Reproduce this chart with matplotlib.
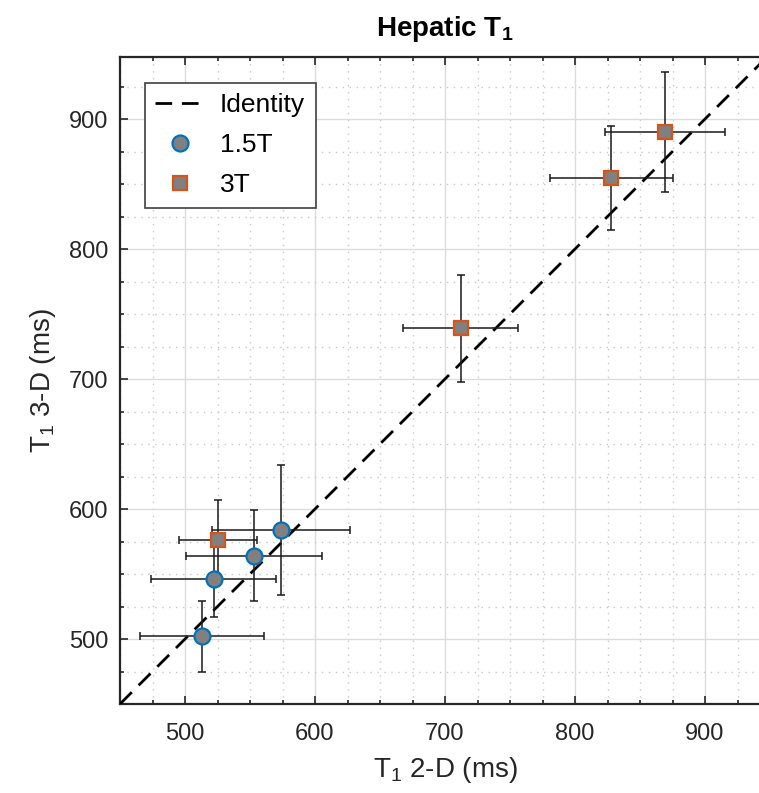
import numpy as np
import matplotlib.pyplot as plt
from matplotlib.lines import Line2D
from matplotlib.ticker import MultipleLocator

plt.rcParams['font.family'] = ['Liberation Sans', 'DejaVu Sans']
plt.rcParams['mathtext.fontset'] = 'custom'
plt.rcParams['mathtext.rm'] = 'Liberation Sans'
plt.rcParams['mathtext.bf'] = 'Liberation Sans:bold'
plt.rcParams['mathtext.default'] = 'regular'

# 1.5T: T1 from 2-D vs 3-D (ms), with std
x_15 = [513, 522, 553, 574]
xerr_15 = [47.5, 48, 52, 53]
y_15 = [502, 546, 564, 584]
yerr_15 = [27, 29, 35, 50]

# 3T
x_3 = [525, 712, 828, 869]
xerr_3 = [30, 44, 47, 46]
y_3 = [576, 739, 855, 890]
yerr_3 = [31, 41, 40, 46]

blue = '#0072BD'
orange = '#D95319'
gray = '#808080'
dark = '#262626'

#%%
fig = plt.figure(figsize=(7.59, 7.93), dpi=100)
ax = fig.add_axes([120 / 759, 89 / 793, 650 / 759, 647 / 793])

ident = np.array([450, 950])
ax.plot(ident, ident, color='k', lw=2, dashes=(6, 3.5), zorder=3)

ebkw = dict(fmt='none', ecolor='#1a1a1a', elinewidth=1.1, capsize=2.8, capthick=1.1, zorder=4)
ax.errorbar(x_15, y_15, xerr=xerr_15, yerr=yerr_15, **ebkw)
ax.errorbar(x_3, y_3, xerr=xerr_3, yerr=yerr_3, **ebkw)

ax.plot(x_15, y_15, 'o', ms=11.5, mfc=gray, mec=blue, mew=1.6, ls='none', zorder=5)
ax.plot(x_3, y_3, 's', ms=10, mfc=gray, mec=orange, mew=1.6, ls='none', zorder=5)

ax.set_xlim(450, 950)
ax.set_ylim(450, 450 + 647 / 1.3)

ax.xaxis.set_major_locator(MultipleLocator(100))
ax.yaxis.set_major_locator(MultipleLocator(100))
ax.xaxis.set_minor_locator(MultipleLocator(25))
ax.yaxis.set_minor_locator(MultipleLocator(25))

ax.grid(which='major', color='#dcdcdc', lw=1, ls='-')
ax.grid(which='minor', color='#c8c8c8', lw=1, ls=(0, (1, 4)))
ax.set_axisbelow(True)

ax.tick_params(which='both', direction='in', top=True, right=True, colors=dark,
               labelsize=17, width=1.2)
ax.tick_params(which='major', length=6)
ax.tick_params(which='minor', length=3)
ax.tick_params(axis='x', which='major', pad=14)
ax.tick_params(axis='y', which='major', pad=8.5)
for s in ax.spines.values():
    s.set_linewidth(1.6)
    s.set_color(dark)

ax.set_xlabel('T$_1$ 2-D (ms)', fontsize=20, color=dark, labelpad=7)
ax.set_ylabel('T$_1$ 3-D (ms)', fontsize=20, color=dark, labelpad=8)
ax.set_title('Hepatic T$_\\mathbf{1}$', fontsize=20, fontweight='bold', pad=15)

handles = [
    Line2D([], [], color='k', lw=2, dashes=(6, 3.5)),
    Line2D([], [], marker='o', ls='none', ms=11.5, mfc=gray, mec=blue, mew=1.6),
    Line2D([], [], marker='s', ls='none', ms=10, mfc=gray, mec=orange, mew=1.6),
]
leg = ax.legend(handles, ['Identity', '1.5T', '3T'], loc='upper left',
                bbox_to_anchor=(0.038, 0.96), borderaxespad=0, fontsize=19,
                fancybox=False, framealpha=1, edgecolor='#404040',
                handlelength=1.9, handletextpad=0.55, labelspacing=0.6,
                borderpad=0.4)
leg.get_frame().set_linewidth(1.2)

fig.savefig('out.png', dpi=100)
